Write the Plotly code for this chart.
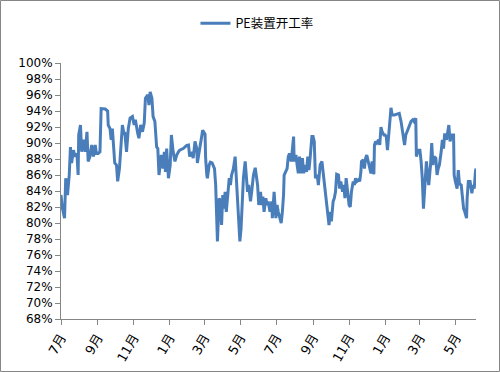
import pandas as pd
import plotly.graph_objects as go

# ---- data ----
start_date = "2017-07-01"
end_date = "2019-06-04"

# days since start_date
day_offset = [
    0, 2, 6, 8, 11, 14, 16, 18, 21, 24, 27, 29, 30, 33, 35, 38, 41, 44, 46, 49,
    52, 55, 58, 60, 63, 66, 68, 75, 79, 80, 83, 85, 87, 89, 91, 94, 96, 99, 102, 104,
    107, 108, 111,
    114, 117, 121, 124, 126, 130, 132, 135, 138, 141, 143, 147, 149, 151, 154, 156, 159, 162, 164, 166,
    168, 170, 173, 175, 177, 179, 182, 185, 187, 190, 193, 196, 199, 201, 207, 213, 216, 218, 221, 224,
    227, 230, 231,
    237, 240, 244, 245, 247, 248, 251, 253, 256, 260, 262, 264, 265, 268, 270, 272, 274, 276, 278, 280,
    282, 285, 287, 289, 292, 295, 297, 299, 300, 303, 305, 307, 309, 312, 314, 316, 318, 321, 323, 326,
    329, 331, 333, 335, 338, 340, 342, 344, 347, 349,
    351, 354, 357, 358, 361, 364, 366, 368, 371, 373, 375, 377, 378, 381, 383, 385, 387, 390, 392, 394,
    395, 398, 400, 402, 404, 407, 409, 411, 413, 416, 418, 420, 422, 425, 427, 429, 431, 434, 436, 439,
    442, 444, 447, 450, 452, 454, 456, 458, 461, 463, 465, 467,
    470, 472, 474, 477, 479, 481, 483, 486, 488, 490, 492, 495, 497, 499, 501, 504, 506, 508, 509, 512,
    514, 516, 518, 521, 523, 525, 527, 530, 531, 533, 535, 538, 540, 542, 544, 547, 549, 551, 553, 556,
    558, 559, 561, 565, 569, 573, 576, 578, 580, 582, 584, 586, 588,
    591, 593, 596, 598, 601, 602, 605, 608, 610, 612, 614, 617, 619, 621, 623, 626, 628, 630, 632, 635,
    637, 639, 641, 644, 646, 648, 650, 653, 655, 657, 659, 662, 665, 666, 668, 671, 673, 675, 678, 680,
    682, 684, 687, 688, 690, 693, 696, 698, 700, 702, 703,
]

# PE plant operating rate, %
pe_rate = [
    83.5, 82.0, 80.6, 85.6, 83.5, 86.0, 89.5, 87.5, 89.1, 88.3, 88.7, 86.0, 91.0, 92.25, 88.9, 90.4, 88.9, 91.4, 87.7, 88.3,
    89.75, 88.3, 89.75, 88.7, 88.7, 88.9, 94.3, 94.25, 94.0, 92.25, 91.8, 90.4, 91.8, 90.0, 87.5, 87.25, 85.2, 86.8, 90.2, 92.25,
    91.0, 91.4, 88.9,
    91.8, 93.1, 93.3, 92.25, 92.9, 91.2, 90.6, 92.25, 91.4, 92.5, 95.6, 96.0, 94.75, 96.4, 95.6, 93.3, 92.7, 89.5, 89.3, 86.0,
    87.7, 88.5, 86.8, 88.9, 86.4, 89.3, 85.6, 87.25, 91.0, 88.9, 87.7, 88.5, 88.9, 89.1, 89.3, 89.7, 89.75, 88.3, 88.9, 88.1,
    90.2, 89.3, 87.5,
    90.6, 91.6, 91.1, 88.1, 86.0, 85.6, 87.25, 87.6, 87.5, 86.8, 84.75, 81.4, 77.7, 83.1, 82.7, 79.75, 83.5, 81.8, 83.9, 81.4,
    83.5, 85.6, 84.75, 86.0, 86.8, 88.3, 85.6, 82.9, 83.1, 77.7, 79.3, 83.5, 85.6, 87.7, 85.6, 83.9, 84.75, 82.7, 83.9, 86.0,
    86.9, 85.6, 84.75, 82.25, 83.9, 82.25, 83.3, 81.4, 83.1, 82.25,
    82.7, 81.4, 82.7, 80.6, 83.9, 80.6, 82.25, 81.4, 80.6, 80.0, 81.4, 83.5, 86.0, 86.6, 86.8, 88.3, 88.7, 87.7, 89.3, 90.8,
    87.7, 88.5, 87.25, 86.2, 88.3, 86.2, 88.1, 86.2, 87.25, 86.4, 88.3, 86.6, 88.1, 90.8, 90.8, 90.2, 85.6, 86.0, 84.75, 87.25,
    87.7, 86.4, 84.3, 82.25, 81.0, 79.75, 81.4, 80.2, 82.7, 83.1, 83.9, 86.1,
    86.0, 84.3, 85.2, 83.9, 84.75, 83.1, 85.6, 83.9, 82.25, 82.0, 83.9, 85.2, 84.75, 85.6, 85.2, 85.4, 85.2, 86.4, 87.7, 87.9,
    86.8, 88.1, 88.5, 87.5, 86.8, 86.2, 87.7, 86.1, 89.75, 90.2, 90.0, 90.4, 89.75, 92.0, 91.4, 91.0, 91.0, 90.8, 89.1, 92.25,
    93.5, 94.4, 93.5, 93.5, 93.6, 93.7, 92.7, 91.8, 91.0, 89.75, 91.0, 91.4, 91.8,
    92.25, 92.7, 92.9, 92.7, 93.1, 88.3, 89.1, 89.1, 87.7, 85.6, 81.8, 84.75, 87.7, 86.0, 84.75, 87.25, 90.0, 87.25, 88.3, 88.1,
    86.0, 86.8, 87.25, 88.9, 90.4, 89.3, 91.2, 90.4, 91.6, 92.25, 90.2, 91.0, 91.0, 86.0, 85.2, 84.3, 86.6, 84.9, 84.75, 83.1,
    81.8, 81.4, 80.6, 83.1, 85.2, 85.2, 83.7, 84.75, 84.3, 86.4, 86.8,
]

series_name = "PE装置开工率"
y_min, y_max, y_step = 68, 100, 2

dates = pd.Timestamp(start_date) + pd.to_timedelta(day_offset, unit="D")

axis_grey = "#868686"
line_blue = "#4A7EBB"
label_font = "DejaVu Sans, Noto Sans CJK SC, sans-serif"

fig = go.Figure()
fig.add_trace(go.Scatter(
    x=dates, y=pe_rate, mode="lines", name=series_name,
    line=dict(color=line_blue, width=3),
))

fig.update_layout(
    width=500, height=372,
    margin=dict(l=61, r=24, t=63, b=53, autoexpand=False),
    paper_bgcolor="white", plot_bgcolor="white",
    font=dict(family=label_font, size=12, color="black"),
    showlegend=True,
    legend=dict(
        orientation="h", x=0.324, xanchor="left", y=1.212, yanchor="top",
        font=dict(family="Noto Sans CJK SC, DejaVu Sans, sans-serif", size=12.5, color="black"),
        bgcolor="rgba(0,0,0,0)",
    ),
    shapes=[dict(
        type="rect", xref="paper", yref="paper",
        x0=-0.1458, x1=1.0566, y0=-0.2051, y1=1.2441,
        line=dict(color=axis_grey, width=1), fillcolor="rgba(0,0,0,0)", layer="below",
    )],
)

fig.update_xaxes(
    type="date", range=[start_date, end_date],
    tick0=start_date, dtick="M2", tickformat="%-m月", tickangle=-60,
    ticks="outside", ticklen=5, tickcolor=axis_grey,
    showline=True, linecolor=axis_grey, linewidth=1,
    showgrid=False, zeroline=False, automargin=False,
    tickfont=dict(family=label_font, size=13, color="black"),
)
fig.update_yaxes(
    range=[y_min, y_max], tick0=y_min, dtick=y_step, ticksuffix="%",
    ticks="outside", ticklen=5, tickcolor=axis_grey,
    showline=True, linecolor=axis_grey, linewidth=1,
    showgrid=False, zeroline=False, automargin=False,
    tickfont=dict(family=label_font, size=12, color="black"),
)

fig.write_html(
    "out.html",
    config={"displayModeBar": False},
    post_script="document.body.style.margin='0px';document.body.style.padding='0px';",
)
